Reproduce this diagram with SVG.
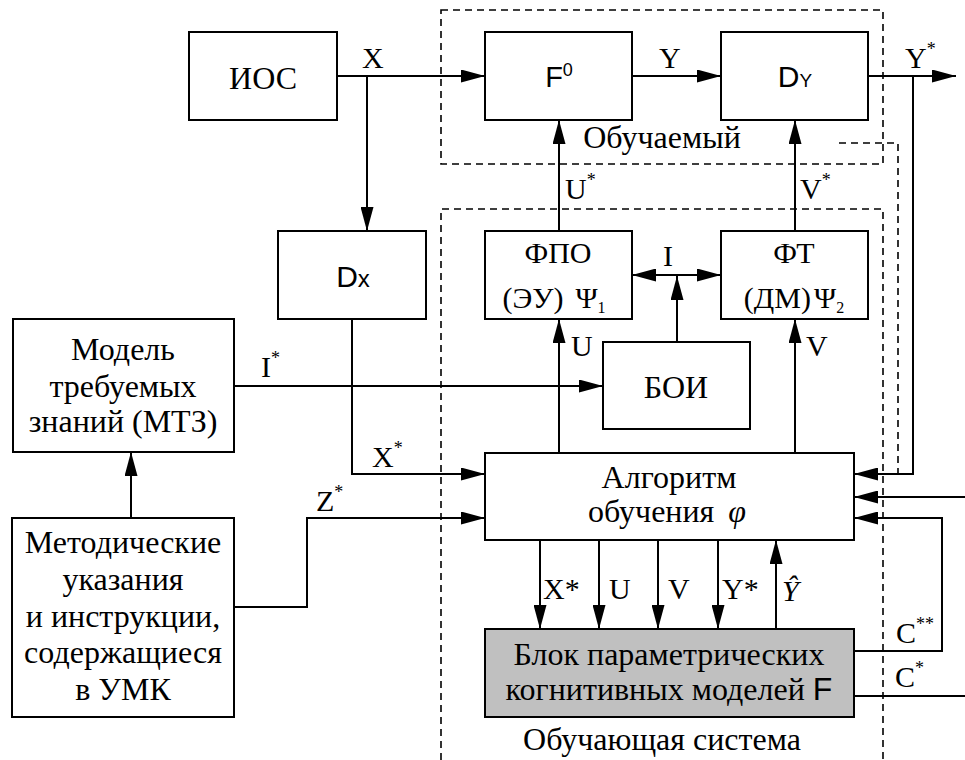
<svg xmlns="http://www.w3.org/2000/svg" width="965" height="760" viewBox="0 0 965 760">
<defs>
<style>
.box{fill:#fff;stroke:#000;stroke-width:2}
.gray{fill:#c0c0c0;stroke:#000;stroke-width:2}
.ln{fill:none;stroke:#000;stroke-width:2}
.arr{fill:none;stroke:#000;stroke-width:2;marker-end:url(#ah)}
.dash{fill:none;stroke:#000;stroke-width:1.6;stroke-dasharray:7,5}
.t{font-family:'Liberation Serif','DejaVu Serif',serif;font-size:32px;fill:#000}
.l{font-family:'Liberation Serif','DejaVu Serif',serif;font-size:30px;fill:#000}
.c{text-anchor:middle}
.s{font-family:'Liberation Sans','DejaVu Sans',sans-serif;fill:#000}
.sup{font-size:18px}
</style>
<marker id="ah" viewBox="0 0 24 13" refX="24" refY="6.5" markerWidth="24" markerHeight="13" markerUnits="userSpaceOnUse" orient="auto-start-reverse">
<path d="M0,0 L24,6.5 L0,13 z" fill="#000"/>
</marker>
</defs>

<g id="frames">
<rect x="441" y="10" width="442" height="154" class="dash"/>
<path d="M441,760 V209 H883 V760" class="dash"/>
<text x="662" y="148" class="t c">Обучаемый</text>
<text x="662" y="750" class="t c">Обучающая система</text>
</g>

<g id="connectors">
<path d="M337,76 H485" class="arr"/>
<path d="M367,76 V231" class="arr"/>
<path d="M632,76 H721" class="arr"/>
<path d="M868,76 H956" class="arr"/>
<path d="M559,231 V120" class="arr"/>
<path d="M795,231 V120" class="arr"/>
<path d="M632,275 H721" class="arr" style="marker-start:url(#ah)"/>
<path d="M677,342 V276" class="arr"/>
<path d="M559,453 V319" class="arr"/>
<path d="M795,453 V319" class="arr"/>
<path d="M234,386 H603" class="arr"/>
<path d="M352,319 V474 H485" class="arr"/>
<path d="M131,518 V452" class="arr"/>
<path d="M234,607 H307 V518 H485" class="arr"/>
<path d="M913,76 V474 H854" class="arr"/>
<path d="M839,143 H898 V474" class="dash"/>
<path d="M965,497 H854" class="arr"/>
<path d="M854,651 H942 V518 H854" class="arr"/>
<path d="M854,696 H965" class="ln"/>
<path d="M540,540 V629" class="arr"/>
<path d="M599,540 V629" class="arr"/>
<path d="M658,540 V629" class="arr"/>
<path d="M718,540 V629" class="arr"/>
<path d="M776,629 V540" class="arr"/>

<text x="362" y="68" class="l">X</text>
<text x="659" y="68" class="l">Y</text>
<text x="905" y="68" class="l">Y<tspan class="sup" dy="-13">*</tspan></text>
<text x="565" y="199" class="l">U<tspan class="sup" dy="-13">*</tspan></text>
<text x="800" y="199" class="l">V<tspan class="sup" dy="-13">*</tspan></text>
<text x="663" y="266" class="l">I</text>
<text x="571" y="356" class="l">U</text>
<text x="806" y="356" class="l">V</text>
<text x="261" y="377" class="l">I<tspan class="sup" dy="-13">*</tspan></text>
<text x="372" y="467" class="l">X<tspan class="sup" dy="-13">*</tspan></text>
<text x="316" y="511" class="l">Z<tspan class="sup" dy="-13">*</tspan></text>
<text x="543" y="599" class="l">X*</text>
<text x="609" y="599" class="l">U</text>
<text x="668" y="599" class="l">V</text>
<text x="722" y="599" class="l">Y*</text>
<text x="782" y="601" class="l" font-style="italic">Ŷ</text>
<text x="896" y="643" class="l">C<tspan class="sup" dy="-13">**</tspan></text>
<text x="895" y="687" class="l">C<tspan class="sup" dy="-13">*</tspan></text>
</g>

<g id="ios">
<rect x="189" y="32" width="148" height="88" class="box"/>
<text x="263" y="89" class="t c">ИОС</text>
</g>
<g id="f0">
<rect x="485" y="32" width="147" height="88" class="box"/>
<text x="559" y="87" class="s" font-size="29" text-anchor="middle">F<tspan font-size="18" dy="-11">0</tspan></text>
</g>
<g id="dy">
<rect x="721" y="32" width="147" height="88" class="box"/>
<text x="795" y="87" class="s" font-size="30" text-anchor="middle">D<tspan font-size="19">Y</tspan></text>
</g>
<g id="dx">
<rect x="278" y="231" width="148" height="88" class="box"/>
<text x="353" y="287" class="s" font-size="30" text-anchor="middle">D<tspan font-size="24">x</tspan></text>
</g>
<g id="fpo">
<rect x="485" y="231" width="147" height="88" class="box"/>
<text x="558" y="263" class="l c">ФПО</text>
<text x="554" y="308" class="l c">(ЭУ)<tspan dx="12">Ψ</tspan><tspan font-size="16" dy="5">1</tspan></text>
</g>
<g id="ft">
<rect x="721" y="231" width="147" height="88" class="box"/>
<text x="794" y="263" class="l c">ФТ</text>
<text x="794" y="308" class="l c">(ДМ)<tspan dx="3">Ψ</tspan><tspan font-size="16" dy="5">2</tspan></text>
</g>
<g id="boi">
<rect x="603" y="342" width="147" height="87" class="box"/>
<text x="676" y="398" class="t c">БОИ</text>
</g>
<g id="mtz">
<rect x="13" y="319" width="221" height="133" class="box"/>
<text x="123" y="360" class="t c">Модель</text>
<text x="123" y="397" class="t c">требуемых</text>
<text x="123" y="432" class="t c">знаний (МТЗ)</text>
</g>
<g id="metod">
<rect x="12" y="518" width="222" height="199" class="box"/>
<text x="123" y="553" class="t c">Методические</text>
<text x="123" y="590" class="t c">указания</text>
<text x="123" y="627" class="t c">и инструкции,</text>
<text x="123" y="663" class="t c">содержащиеся</text>
<text x="123" y="700" class="t c">в УМК</text>
</g>
<g id="algo">
<rect x="485" y="453" width="369" height="87" class="box"/>
<text x="669" y="488" class="t c">Алгоритм</text>
<text x="667" y="522" class="t c">обучения<tspan dx="14" font-style="italic">φ</tspan></text>
</g>
<g id="blok">
<rect x="485" y="629" width="369" height="88" class="gray"/>
<text x="669" y="665" class="t c">Блок параметрических</text>
<text x="669" y="700" class="t c">когнитивных моделей <tspan class="s">F</tspan></text>
</g>
</svg>
